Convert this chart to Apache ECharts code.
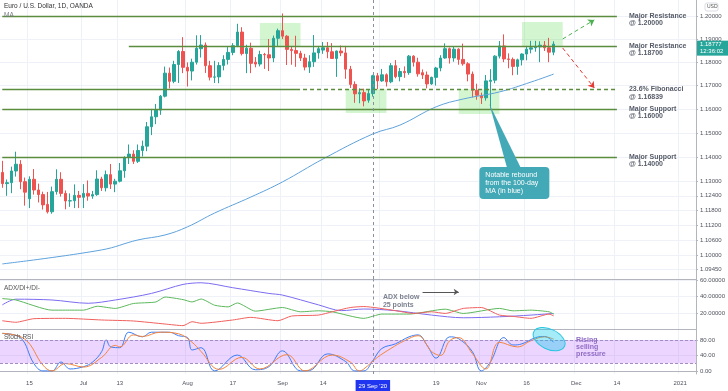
<!DOCTYPE html>
<html><head><meta charset="utf-8">
<script src="https://cdn.jsdelivr.net/npm/echarts@6/dist/echarts.min.js"></script>
<style>html,body{margin:0;padding:0;background:#fff}#c{width:728px;height:391px}</style>
</head><body><div id="c"></div>
<script>
// ---------- DATA ----------
const firstDay = '2020-06-05';
const dayCount = 154; // weekdays on the time axis (Jun 5 2020 .. Jan 6 2021)
const tickDates  = ['2020-06-15','2020-07-01','2020-07-13','2020-08-03','2020-08-17','2020-09-01','2020-09-14','2020-10-01','2020-10-19','2020-11-02','2020-11-16','2020-12-01','2020-12-14','2021-01-01'];
const tickLabels = ['15','Jul','13','Aug','17','Sep','14','Oct','19','Nov','16','Dec','14','2021'];
const cursorDate = '2020-09-29';
const cursorLabel = "29 Sep '20";

const opens  = [1.1336,1.1290,1.1294,1.1342,1.1370,1.1298,1.1228,1.1308,1.1264,1.1245,1.1205,1.1175,1.1257,1.1308,1.1250,1.1219,1.1220,1.1242,1.1234,1.1250,1.1239,1.1245,1.1309,1.1273,1.1327,1.1288,1.1300,1.1343,1.1398,1.1412,1.1382,1.1427,1.1445,1.1526,1.1568,1.1596,1.1655,1.1753,1.1718,1.1790,1.1846,1.1778,1.1762,1.1800,1.1858,1.1874,1.1785,1.1736,1.1737,1.1786,1.1812,1.1842,1.1871,1.1930,1.1837,1.1860,1.1800,1.1792,1.1833,1.1832,1.1818,1.1903,1.1936,1.1912,1.1855,1.1850,1.1838,1.1818,1.1779,1.1802,1.1840,1.1852,1.1862,1.1845,1.1816,1.1848,1.1840,1.1770,1.1705,1.1665,1.1670,1.1638,1.1666,1.1742,1.1720,1.1746,1.1716,1.1785,1.1738,1.1760,1.1755,1.1826,1.1800,1.1755,1.1745,1.1707,1.1735,1.1775,1.1818,1.1858,1.1818,1.1856,1.1812,1.1793,1.1749,1.1680,1.1656,1.1648,1.1718,1.1723,1.1826,1.1870,1.1814,1.1812,1.1782,1.1810,1.1835,1.1856,1.1862,1.1866,1.1873,1.1862,1.1843];
const highs  = [1.1384,1.1307,1.1360,1.1422,1.1387,1.1315,1.1320,1.1350,1.1290,1.1257,1.1256,1.1278,1.1349,1.1337,1.1262,1.1250,1.1287,1.1260,1.1288,1.1303,1.1260,1.1345,1.1318,1.1344,1.1371,1.1310,1.1375,1.1403,1.1452,1.1428,1.1452,1.1468,1.1546,1.1601,1.1622,1.1660,1.1781,1.1777,1.1806,1.1852,1.1908,1.1799,1.1815,1.1916,1.1917,1.1885,1.1806,1.1806,1.1800,1.1830,1.1865,1.1882,1.1966,1.1951,1.1875,1.1884,1.1822,1.1849,1.1840,1.1900,1.1915,1.1945,1.2011,1.1917,1.1868,1.1914,1.1849,1.1836,1.1830,1.1917,1.1870,1.1887,1.1887,1.1882,1.1850,1.1872,1.1870,1.1784,1.1718,1.1688,1.1687,1.1683,1.1746,1.1754,1.1771,1.1752,1.1796,1.1809,1.1775,1.1782,1.1831,1.1830,1.1819,1.1769,1.1760,1.1738,1.1780,1.1830,1.1881,1.1863,1.1866,1.1860,1.1880,1.1800,1.1760,1.1708,1.1670,1.1745,1.1770,1.1830,1.1891,1.1920,1.1838,1.1820,1.1815,1.1838,1.1870,1.1892,1.1892,1.1890,1.1891,1.1905,1.1890];
const lows   = [1.1273,1.1240,1.1251,1.1319,1.1267,1.1200,1.1190,1.1245,1.1213,1.1184,1.1168,1.1167,1.1245,1.1237,1.1185,1.1195,1.1190,1.1190,1.1190,1.1220,1.1228,1.1240,1.1260,1.1258,1.1268,1.1255,1.1295,1.1314,1.1371,1.1371,1.1375,1.1402,1.1424,1.1491,1.1537,1.1576,1.1650,1.1688,1.1710,1.1711,1.1753,1.1696,1.1722,1.1790,1.1820,1.1754,1.1722,1.1711,1.1710,1.1765,1.1790,1.1830,1.1865,1.1829,1.1753,1.1753,1.1778,1.1782,1.1771,1.1762,1.1800,1.1870,1.1900,1.1788,1.1789,1.1780,1.1805,1.1765,1.1754,1.1780,1.1815,1.1836,1.1817,1.1815,1.1737,1.1826,1.1729,1.1690,1.1627,1.1625,1.1612,1.1627,1.1653,1.1685,1.1716,1.1696,1.1710,1.1731,1.1718,1.1733,1.1746,1.1781,1.1738,1.1728,1.1688,1.1703,1.1700,1.1761,1.1815,1.1794,1.1802,1.1789,1.1785,1.1718,1.1650,1.1640,1.1622,1.1636,1.1603,1.1710,1.1816,1.1800,1.1774,1.1744,1.1746,1.1786,1.1808,1.1838,1.1845,1.1800,1.1848,1.1800,1.1830];
const closes = [1.1290,1.1294,1.1342,1.1370,1.1298,1.1255,1.1308,1.1264,1.1245,1.1203,1.1175,1.1257,1.1308,1.1250,1.1219,1.1220,1.1242,1.1234,1.1250,1.1239,1.1245,1.1309,1.1273,1.1327,1.1288,1.1300,1.1343,1.1398,1.1412,1.1382,1.1427,1.1445,1.1526,1.1568,1.1596,1.1655,1.1753,1.1718,1.1790,1.1846,1.1778,1.1762,1.1800,1.1860,1.1874,1.1785,1.1736,1.1737,1.1786,1.1812,1.1842,1.1871,1.1930,1.1837,1.1860,1.1795,1.1792,1.1833,1.1832,1.1818,1.1903,1.1936,1.1912,1.1855,1.1850,1.1838,1.1818,1.1779,1.1802,1.1840,1.1858,1.1862,1.1845,1.1816,1.1848,1.1840,1.1770,1.1705,1.1665,1.1670,1.1635,1.1666,1.1742,1.1720,1.1746,1.1716,1.1785,1.1738,1.1760,1.1755,1.1826,1.1800,1.1750,1.1745,1.1707,1.1735,1.1775,1.1818,1.1858,1.1818,1.1856,1.1812,1.1793,1.1749,1.1680,1.1659,1.1648,1.1720,1.1723,1.1826,1.1870,1.1814,1.1812,1.1782,1.1810,1.1835,1.1856,1.1862,1.1866,1.1873,1.1862,1.1843,1.18777];

// 100-day MA read at points [day index, value]
const ma100 = [[0,1.0965],[22,1.1021],[30,1.1061],[36,1.1081],[41,1.1114],[47,1.1170],[55,1.1235],[62,1.1297],[71,1.1392],[82,1.1496],[88,1.1533],[96,1.1610],[102,1.1643],[110,1.1673],[117,1.1715],[122,1.1749]];

// ADX / DI+ / DI-
const adx = [[0,30],[3,37],[11,36],[19,32],[25,36],[33,44],[40,55],[44,57],[51,51],[59,44],[62,42],[70,30],[75,23],[80,25],[87,23],[95,17.6],[102,14.3],[110,15.5],[117,17.6],[122,19.6]];
const diPlus = [[0,37.7],[3,36],[11,23.6],[14,23.6],[18,23.6],[21,28.4],[25,25.7],[29,31.7],[34,33.6],[36,39.6],[40,36.5],[42,33.6],[44,37.2],[47,29.6],[50,27.6],[52,32.4],[56,22.4],[62,26.8],[66,21.6],[70,22.8],[73,21.6],[80,13.6],[84,18.8],[90,18.8],[98,24.8],[102,19.6],[110,25.7],[113,22.8],[117,23.6],[121,21.6],[122,18.8]];
const diMinus = [[0,10.7],[3,8.8],[7,13.2],[14,13.6],[22,11.6],[29,10.4],[36,6.7],[40,4.7],[42,9.5],[44,7.6],[51,11.6],[55,14.8],[61,10.7],[64,16.4],[70,17.6],[73,21.6],[77,26.8],[80,28],[87,23],[91,19.6],[95,21.6],[98,19.6],[102,25.7],[106,26.8],[110,17.6],[113,16],[117,13.6],[121,18.8],[122,16.7]];

// Stoch RSI
const stochK = [[0,97],[4,86],[7,19],[9,0],[11,0],[13,23],[15,5],[18,11],[20,23],[22,50],[23,80],[24,62],[26,60],[28,100],[31,88],[33,100],[37,100],[39,91],[41,86],[42,54],[44,60],[47,0],[52,41],[56,3],[59,11],[62,52],[66,0],[68,1],[72,44],[76,24],[78,0],[80,0],[82,27],[84,58],[87,70],[90,88],[92,93],[94,66],[96,33],[99,88],[101,83],[104,50],[106,0],[108,23],[111,86],[113,67],[115,70],[118,86],[120,89],[122,74]];
const stochD = [[0,97],[5,82],[9,15],[11,0],[14,19],[18,10],[22,35],[25,66],[26,62],[29,93],[31,89],[35,100],[39,96],[42,74],[44,50],[48,4],[53,35],[57,5],[63,42],[67,0],[73,41],[77,23],[79,0],[80,5],[83,35],[86,58],[89,78],[92,91],[95,50],[97,40],[99,78],[101,86],[104,45],[107,5],[110,74],[114,62],[117,78],[120,88],[122,82]];

// key levels & annotation values
const levelValues = [1.20000, 1.18700, 1.16839, 1.16000, 1.14000];
const levelNames  = ['Major Resistance','Major Resistance','23.6% Fibonacci','Major Support','Major Support'];
const priceTicks = [1.0945,1.1,1.106,1.112,1.118,1.124,1.13,1.14,1.15,1.16,1.17,1.18,1.19,1.2];
const adxTicks = [20,40,60];
const stochTicks = [0,40,80];
const zones = [[57,1.1969,66,1.1865],[76,1.1684,85,1.1584],[101,1.1684,110,1.1580],[115,1.1974,124,1.1866]];

// ---------- BUILD ----------
function weekdays(start, n){ const out=[]; const d=new Date(start+'T00:00:00Z');
  while(out.length<n){ const w=d.getUTCDay(); if(w!==0&&w!==6) out.push(d.toISOString().slice(0,10)); d.setUTCDate(d.getUTCDate()+1);} return out; }
const days = weekdays(firstDay, dayCount);
const tickIdx = new Set(tickDates.map(d=>days.indexOf(d)));
const labelMap = {}; tickDates.forEach((d,i)=>{ if(d!=='2020-10-01') labelMap[days.indexOf(d)] = tickLabels[i]; });
const cursorIdx = days.indexOf(cursorDate);
labelMap[cursorIdx] = '{hl|'+cursorLabel+'}';
const candles = opens.map((o,i)=>[o, closes[i], lows[i], highs[i]]);

const FONT = 'Liberation Sans, Arial, sans-serif';
const gridLine = {show:true, lineStyle:{color:'#eef1f7', width:1}};
const axisCol = '#b2b5be';
const GREEN = '#26a69a', RED = '#ef5350';
const levelColor = '#5b8d3f';

function xAxisFor(g, showLabels){
  return { type:'category', gridIndex:g, data:days, boundaryGap:true,
    axisLine:{show:true, lineStyle:{color:axisCol}}, axisTick:{show:false},
    axisLabel: showLabels ? { interval:(i)=>labelMap[i]!==undefined, formatter:(v,i)=>labelMap[i]||'', fontSize:6, color:'#50535e', fontFamily:FONT, margin:6,
      rich:{hl:{backgroundColor:'#1f35f0', color:'#fff', fontSize:6, padding:[3,3,2,3], fontFamily:FONT}} } : {show:false},
    splitLine:{show:true, interval:(i)=>tickIdx.has(i), lineStyle:{color:'#eef1f7'}} };
}
function yRight(g, extra){
  return Object.assign({ gridIndex:g, position:'right', axisLine:{show:true, lineStyle:{color:axisCol}},
    axisTick:{show:true, length:2, lineStyle:{color:axisCol}}, splitLine:gridLine }, extra);
}

const levelLines = [];
levelValues.forEach((v,i)=>{
  const start = i===1 ? 28 : 0;
  const st = {color:levelColor, width:1.3, type:'solid'};
  if(i===2){
    levelLines.push([{coord:[0,v], lineStyle:st},{coord:[65,v]}]);
    levelLines.push([{coord:[65,v], lineStyle:{color:levelColor, width:1.3, type:[4,3]}},{coord:[136,v]}]);
  } else levelLines.push([{coord:[start,v], lineStyle:st},{coord:[136,v]}]);
});
levelLines.push([{coord:[124,1.1900], symbol:'none', lineStyle:{color:'#4caf50', width:1, type:[4,3]}},{coord:[131,1.1983], symbol:'arrow', symbolSize:6}]);
levelLines.push([{coord:[124,1.1861], symbol:'none', lineStyle:{color:'#e53935', width:1, type:[4,3]}},{coord:[131,1.1690], symbol:'arrow', symbolSize:6}]);

const option = {
  animation:false,
  textStyle:{fontFamily:FONT},
  grid:[
    {left:0, right:32, top:0, height:279},
    {left:0, right:32, top:279.5, height:50},
    {left:0, right:32, top:329.5, height:49}
  ],
  xAxis:[xAxisFor(0,false), xAxisFor(1,false), xAxisFor(2,true)],
  yAxis:[
    yRight(0,{type:'log', logBase:10, min:1.0905, max:1.2070, axisTick:{show:true, length:2, customValues:priceTicks, lineStyle:{color:axisCol}},
      axisLabel:{customValues:priceTicks, formatter:v=>Number(v).toFixed(5), fontSize:6, color:'#50535e', margin:4}}),
    yRight(1,{type:'value', min:0, max:61, axisTick:{show:true, length:2, customValues:adxTicks, lineStyle:{color:axisCol}},
      axisLabel:{customValues:adxTicks, formatter:v=>Number(v).toFixed(5), fontSize:6, color:'#50535e', margin:4}}),
    yRight(2,{type:'value', min:-8, max:107, axisTick:{show:true, length:2, customValues:stochTicks, lineStyle:{color:axisCol}},
      axisLabel:{customValues:stochTicks, formatter:v=>Number(v).toFixed(2), fontSize:6, color:'#50535e', margin:4}})
  ],
  series:[
    { type:'candlestick', xAxisIndex:0, yAxisIndex:0, data:candles, barWidth:3,
      itemStyle:{color:GREEN, color0:RED, borderColor:GREEN, borderColor0:RED, borderWidth:1},
      markArea:{silent:true, itemStyle:{color:'rgba(120,225,110,0.33)'}, data: zones.map(z=>[{coord:[z[0],z[1]]},{coord:[z[2],z[3]]}])},
      markLine:{silent:true, symbol:['none','none'], label:{show:false}, data: levelLines.concat([{xAxis:cursorIdx, lineStyle:{type:[3,3], color:'#8a8fa0', width:1}}])}
    },
    { type:'line', xAxisIndex:0, yAxisIndex:0, data:ma100, smooth:0.4, showSymbol:false, lineStyle:{color:'#5ea2dc', width:1}, silent:true },
    { type:'line', xAxisIndex:1, yAxisIndex:1, data:adx, smooth:0.3, showSymbol:false, lineStyle:{color:'#7b6cf0', width:1}, silent:true,
      markLine:{silent:true, symbol:['none','none'], label:{show:false}, data:[
        {xAxis:cursorIdx, lineStyle:{type:[3,3], color:'#8a8fa0', width:1}},
        [{coord:[93,45.8], symbol:'none', lineStyle:{color:'#555', width:1, type:'solid'}},{coord:[101,45.8], symbol:'arrow', symbolSize:5}]
      ]} },
    { type:'line', xAxisIndex:1, yAxisIndex:1, data:diPlus, smooth:0.2, showSymbol:false, lineStyle:{color:'#5cb85c', width:1}, silent:true },
    { type:'line', xAxisIndex:1, yAxisIndex:1, data:diMinus, smooth:0.2, showSymbol:false, lineStyle:{color:'#f0605d', width:1}, silent:true },
    { type:'line', xAxisIndex:2, yAxisIndex:2, data:stochK, smooth:0.4, showSymbol:false, lineStyle:{color:'#3d7cf5', width:1}, silent:true,
      markArea:{silent:true, itemStyle:{color:'rgba(186,104,250,0.28)'}, data:[[{yAxis:20},{yAxis:80}]]},
      markLine:{silent:true, symbol:['none','none'], label:{show:false}, data:[
        {yAxis:20, lineStyle:{type:[3,2], color:'#a38cc4', width:1}},
        {yAxis:80, lineStyle:{type:[3,2], color:'#a38cc4', width:1}},
        {xAxis:cursorIdx, lineStyle:{type:[3,3], color:'#8a8fa0', width:1}}
      ]} },
    { type:'line', xAxisIndex:2, yAxisIndex:2, data:stochD, smooth:0.4, showSymbol:false, lineStyle:{color:'#f5843c', width:1}, silent:true }
  ]
};

const chart = echarts.init(document.getElementById('c'), null, {renderer:'canvas'});
chart.setOption(option);

// ---------- ANNOTATIONS (anchored to data coordinates) ----------
const P = (g, x, y) => chart.convertToPixel({gridIndex:g}, [x, y]);
const g = [];
const txt = (x,y,text,size,fill,extra) => ({type:'text', x, y, z:100, style:Object.assign({text, fontSize:size, fontFamily:FONT, fill, verticalAlign:'top'}, extra||{})});

g.push(txt(4, 3, 'Euro / U.S. Dollar, 1D, OANDA', 6.5, '#333'));
g.push(txt(4, 12, 'MA', 6.5, '#787b86'));
g.push(txt(4, 285, 'ADX/DI+/DI-', 6.5, '#555'));
g.push(txt(4, 334, 'Stoch RSI', 6.5, '#555'));

levelValues.forEach((v,i)=>{
  const p = P(0, 136, v);
  g.push(txt(p[0]+12, p[1]-4, levelNames[i]+'\n@ '+v.toFixed(5), 7, '#565b68', {lineHeight:7.5, fontWeight:'bold'}));
});

// callout
const apex = P(0, 108, 1.1622);
const bx = apex[0]-11, by = apex[1]+63;
g.push({type:'polygon', z:90, shape:{points:[[apex[0]-1,apex[1]],[apex[0]+17,by+2],[apex[0]+31,by+2]]}, style:{fill:'#43a9b7'}});
g.push({type:'rect', z:90, shape:{x:bx, y:by, width:70, height:32, r:4}, style:{fill:'#43a9b7'}});
g.push(txt(bx+6, by+4, 'Notable rebound\nfrom the 100-day\nMA (in blue)', 7, '#fff', {lineHeight:8}));

// ADX note
const pa = P(1, 84, 50);
g.push(txt(pa[0]+1, pa[1]+5, 'ADX below\n25 points', 7, '#7d8290', {lineHeight:7.5, fontWeight:'bold'}));

// Stoch ellipse + note
const pe = P(2, 121, 82);
g.push({type:'ellipse', z:90, shape:{cx:pe[0], cy:pe[1], rx:17, ry:10}, rotation:-0.45, originX:pe[0], originY:pe[1],
  style:{fill:'rgba(0,200,235,0.35)', stroke:'#28c6e0', lineWidth:1}});
g.push(txt(pe[0]+27, pe[1]-3, 'Rising\nselling\npressure', 7, '#8f6cc4', {lineHeight:7, fontWeight:'bold'}));

// USD + last price labels
g.push({type:'rect', z:95, shape:{x:705, y:3, width:13, height:8, r:2}, style:{fill:'#fff', stroke:'#d1d4dc', lineWidth:0.8}});
g.push(txt(707, 4.5, 'USD', 5, '#555'));
const lp = P(0, 122, closes[closes.length-1]);
g.push({type:'rect', z:95, shape:{x:697, y:lp[1]-3.5, width:31, height:15}, style:{fill:'#26a69a'}});
g.push(txt(700, lp[1]-2.5, closes[closes.length-1].toFixed(5), 6, '#fff'));
g.push(txt(700, lp[1]+4.5, '12:36:02', 6, '#fff'));

chart.setOption({graphic:g});
</script></body></html>
